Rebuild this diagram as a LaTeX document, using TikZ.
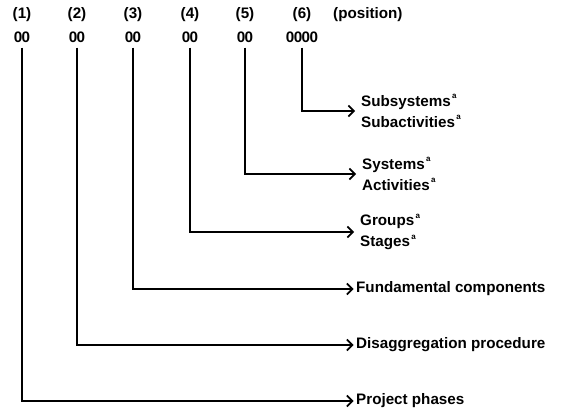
\documentclass[tikz,border=0pt]{standalone}
\usepackage{fontspec}
\setmainfont{Liberation Sans}
\usetikzlibrary{arrows.meta}
\begin{document}
\begin{tikzpicture}[x=1pt,y=-1pt,
  txt/.style={font=\fontsize{15.2}{21}\selectfont\bfseries, inner sep=0pt},
  hdr/.style={txt},
  code/.style={txt},
  lab/.style={txt, anchor=west, align=left},
  conn/.style={line width=1.6pt, -{Straight Barb[length=5.5pt,width=11pt,line width=1.6pt]}}]
\useasboundingbox (0,0) rectangle (561,411);
\newcommand{\sa}{\raisebox{0.9ex}{\fontsize{8}{8}\selectfont\,a}}
\newcommand{\zz}{0\kern-0.6pt0}
% header
\node[hdr] (h1) at (22,15) {(1)};
\node[hdr] (h2) at (77,15) {(2)};
\node[hdr] (h3) at (133,15) {(3)};
\node[hdr] (h4) at (190,15) {(4)};
\node[hdr] (h5) at (245,15) {(5)};
\node[hdr] (h6) at (302,15) {(6)};
\node[hdr, anchor=west] (hp) at (333,15) {(position)};
% codes
\node[code] (c1) at (22,37) {\zz};
\node[code] (c2) at (77,37) {\zz};
\node[code] (c3) at (133,37) {\zz};
\node[code] (c4) at (190,37) {\zz};
\node[code] (c5) at (245,37) {\zz};
\node[code] (c6) at (302,37) {\zz\kern-0.6pt\zz};
% labels
\node[lab] (l6) at (361,111) {Subsystems\sa\\Subactivities\sa};
\node[lab] (l5) at (362,174) {Systems\sa\\Activities\sa};
\node[lab] (l4) at (360,232) {Groups\sa\\Stages\sa};
\node[lab] (l3) at (356,289) {Fundamental components};
\node[lab] (l2) at (356,345) {Disaggregation procedure};
\node[lab] (l1) at (356,401) {Project phases};
% connectors
\draw[conn, shorten >=6pt] ([yshift=-5pt]c6.south) |- (l6.west);
\draw[conn, shorten >=6pt] ([yshift=-5pt]c5.south) |- (l5.west);
\draw[conn, shorten >=6pt] ([yshift=-5pt]c4.south) |- (l4.west);
\draw[conn, shorten >=2.5pt] ([yshift=-5pt]c3.south) |- (l3.west);
\draw[conn, shorten >=2.5pt] ([yshift=-5pt]c2.south) |- (l2.west);
\draw[conn, shorten >=2.5pt] ([yshift=-5pt]c1.south) |- (l1.west);
\end{tikzpicture}
\end{document}
